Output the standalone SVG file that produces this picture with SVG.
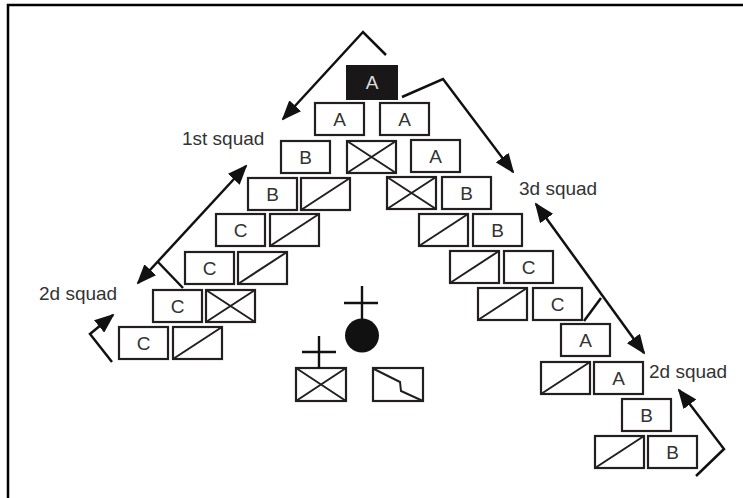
<svg xmlns="http://www.w3.org/2000/svg" width="743" height="498" viewBox="0 0 743 498">
<style>
.b{fill:#fff;stroke:#231f20;stroke-width:2.2}
.bk{fill:#1a1718;stroke:#1a1718;stroke-width:2}
.d{stroke:#231f20;stroke-width:2;fill:none}
.t{font-family:"Liberation Sans",Arial,sans-serif;font-size:19px;fill:#333;text-anchor:middle}
.tw{fill:#ddd}
.lb{font-family:"Liberation Sans",Arial,sans-serif;font-size:19px;fill:#333}
.c{stroke:#111;stroke-width:2.4;fill:none}
.ar{stroke:#111;stroke-width:2.5;fill:none}
</style>
<defs>
<marker id="ah" viewBox="0 0 20 16" markerUnits="userSpaceOnUse" markerWidth="20" markerHeight="16" refX="18" refY="8" orient="auto-start-reverse">
<path d="M0,0 L20,8 L0,16 z" fill="#111"/>
</marker>
</defs>
<rect width="743" height="498" fill="#fff"/>
<path d="M8,498 L8,5 L743,5" fill="none" stroke="#000" stroke-width="2.5"/>

<g id="hq"><rect class="bk" x="347" y="66" width="50" height="33"/><text class="t tw" x="372" y="89">A</text></g>

<g id="l2a"><rect class="b" x="315" y="103" width="49" height="32"/><text class="t" x="339.5" y="126">A</text></g>
<g id="l3b"><rect class="b" x="281" y="141" width="49" height="32"/><text class="t" x="305.5" y="164">B</text></g>
<g id="c3x"><rect class="b" x="347" y="141" width="49" height="32"/><path class="d" d="M347,141 L396,173 M347,173 L396,141"/></g>
<g id="l4b"><rect class="b" x="248" y="178" width="49" height="32"/><text class="t" x="272.5" y="201">B</text></g>
<g id="l4s"><rect class="b" x="301" y="178" width="49" height="32"/><path class="d" d="M301,210 L350,178"/></g>
<g id="l5c"><rect class="b" x="216" y="214" width="49" height="32"/><text class="t" x="240.5" y="237">C</text></g>
<g id="l5s"><rect class="b" x="270" y="214" width="49" height="32"/><path class="d" d="M270,246 L319,214"/></g>
<g id="l6c"><rect class="b" x="185" y="252" width="49" height="32"/><text class="t" x="209.5" y="275">C</text></g>
<g id="l6s"><rect class="b" x="238" y="252" width="49" height="32"/><path class="d" d="M238,284 L287,252"/></g>
<g id="l7c"><rect class="b" x="153" y="290" width="49" height="32"/><text class="t" x="177.5" y="313">C</text></g>
<g id="l7x"><rect class="b" x="206" y="290" width="49" height="32"/><path class="d" d="M206,290 L255,322 M206,322 L255,290"/></g>
<g id="l8c"><rect class="b" x="119" y="327" width="49" height="32"/><text class="t" x="143.5" y="350">C</text></g>
<g id="l8s"><rect class="b" x="173" y="327" width="49" height="32"/><path class="d" d="M173,359 L222,327"/></g>

<g id="r2a"><rect class="b" x="380" y="103" width="49" height="32"/><text class="t" x="404.5" y="126">A</text></g>
<g id="r3a"><rect class="b" x="411" y="140" width="49" height="32"/><text class="t" x="435.5" y="163">A</text></g>
<g id="r4x"><rect class="b" x="387" y="177" width="49" height="32"/><path class="d" d="M387,177 L436,209 M387,209 L436,177"/></g>
<g id="r4b"><rect class="b" x="442" y="177" width="49" height="32"/><text class="t" x="466.5" y="200">B</text></g>
<g id="r5s"><rect class="b" x="419" y="214" width="49" height="32"/><path class="d" d="M419,246 L468,214"/></g>
<g id="r5b"><rect class="b" x="473" y="214" width="49" height="32"/><text class="t" x="497.5" y="237">B</text></g>
<g id="r6s"><rect class="b" x="450" y="251" width="49" height="32"/><path class="d" d="M450,283 L499,251"/></g>
<g id="r6c"><rect class="b" x="504" y="251" width="49" height="32"/><text class="t" x="528.5" y="274">C</text></g>
<g id="r7s"><rect class="b" x="478" y="288" width="49" height="32"/><path class="d" d="M478,320 L527,288"/></g>
<g id="r7c"><rect class="b" x="533" y="288" width="49" height="32"/><text class="t" x="557.5" y="311">C</text></g>
<g id="r8a"><rect class="b" x="561" y="324" width="49" height="32"/><text class="t" x="585.5" y="347">A</text></g>
<g id="r9s"><rect class="b" x="541" y="362" width="49" height="32"/><path class="d" d="M541,394 L590,362"/></g>
<g id="r9a"><rect class="b" x="594" y="362" width="49" height="32"/><text class="t" x="618.5" y="385">A</text></g>
<g id="r10b"><rect class="b" x="622" y="399" width="49" height="32"/><text class="t" x="646.5" y="422">B</text></g>
<g id="r11s"><rect class="b" x="595" y="436" width="49" height="32"/><path class="d" d="M595,468 L644,436"/></g>
<g id="r11b"><rect class="b" x="648" y="436" width="49" height="32"/><text class="t" x="672.5" y="459">B</text></g>

<g id="leader"><circle cx="362" cy="335.5" r="17" fill="#111"/><path class="c" d="M362,286 L362,319 M344,303 L378,303"/></g>
<g id="medic"><rect class="b" x="296" y="368" width="50" height="33"/><path class="d" d="M296,368 L346,401 M296,401 L346,368"/><path class="c" d="M319,336 L319,368 M302,352 L336,352"/></g>
<g id="signal"><rect class="b" x="373" y="368" width="50" height="33"/><path class="d" d="M374,369 L400,382 L401,391 L423,401"/></g>

<g id="connectors">
<polyline class="ar" points="386,55 363,32 283,119" marker-end="url(#ah)"/>
<polyline class="ar" points="402,97 443,79 513,172" marker-end="url(#ah)"/>
<line class="ar" x1="246" y1="166" x2="138" y2="283" marker-start="url(#ah)" marker-end="url(#ah)"/>
<line class="ar" x1="158" y1="262" x2="183" y2="288"/>
<polyline class="ar" points="112,362 90,334 113,315" marker-end="url(#ah)"/>
<line class="ar" x1="536" y1="204" x2="644" y2="353" marker-start="url(#ah)" marker-end="url(#ah)"/>
<line class="ar" x1="601" y1="298" x2="584" y2="321"/>
<polyline class="ar" points="696,476 724,449 679,390" marker-end="url(#ah)"/>
</g>

<g id="labels">
<text class="lb" x="182" y="145">1st squad</text>
<text class="lb" x="39" y="300">2d squad</text>
<text class="lb" x="519" y="195">3d squad</text>
<text class="lb" x="649" y="378">2d squad</text>
</g>
</svg>
